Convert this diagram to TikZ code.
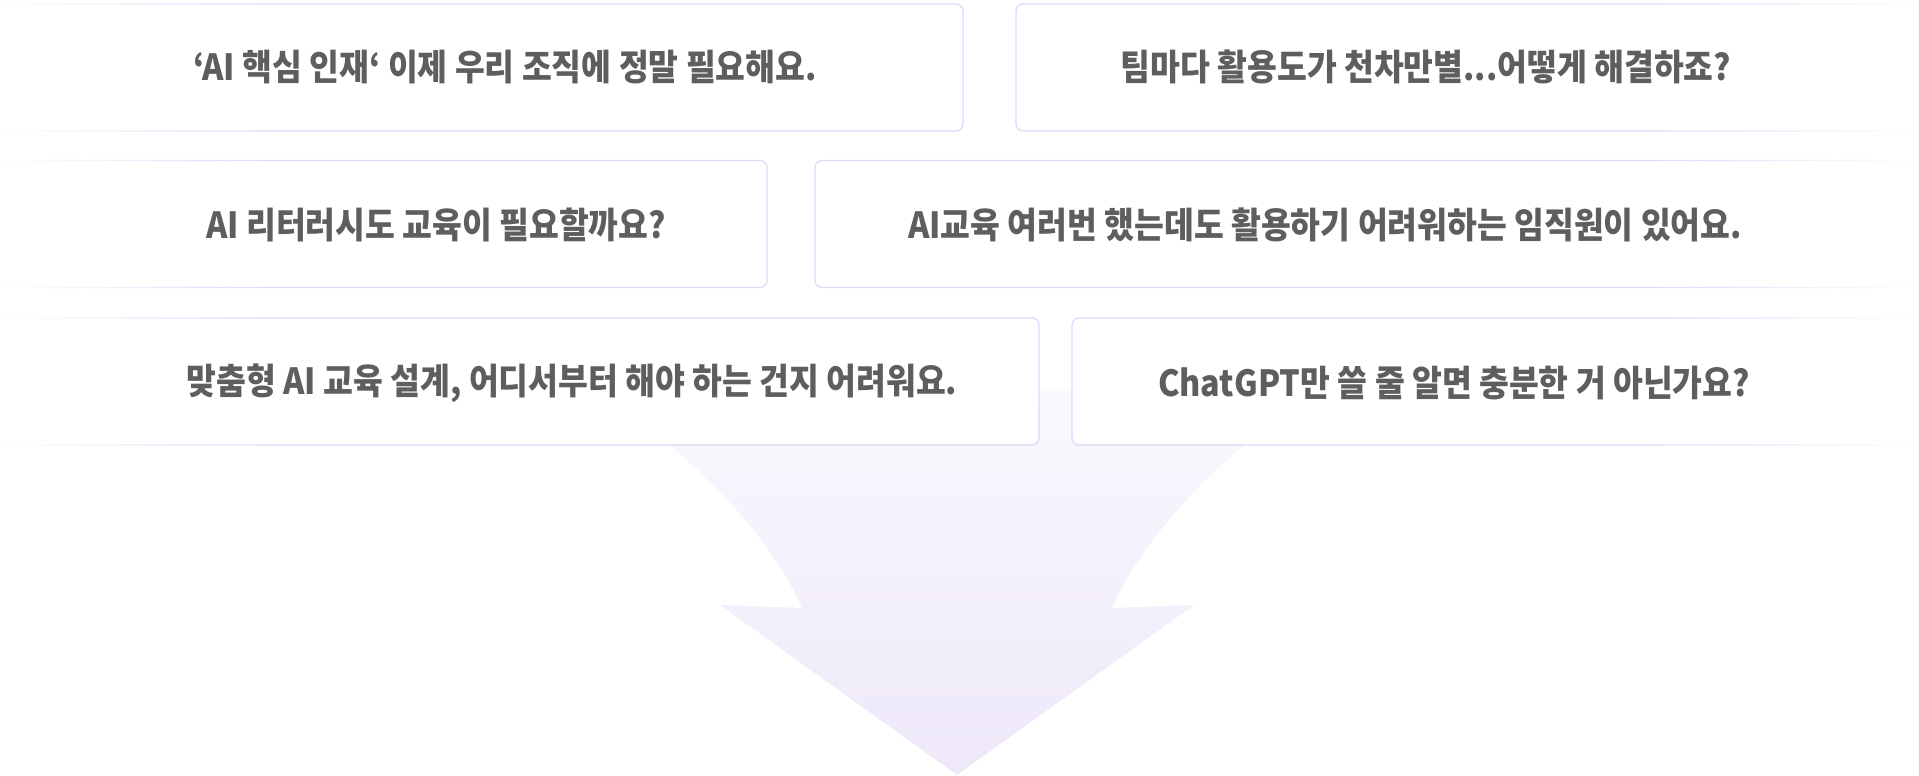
\documentclass[tikz,border=0pt]{standalone}
\usepackage{fontspec}
\setmainfont{Noto Sans CJK KR}[FakeStretch=0.9]
\usetikzlibrary{fadings}
\definecolor{qline}{RGB}{221,218,250}
\definecolor{qgray}{RGB}{94,94,94}
\definecolor{arrtop}{RGB}{250,248,254}
\definecolor{arrbot}{RGB}{238,232,249}
\tikzfading[name=fadeleft, left color=transparent!0, right color=transparent!100]
\tikzfading[name=faderight, left color=transparent!100, right color=transparent!0]
\begin{document}
\begin{tikzpicture}[x=1pt,y=-1pt,
		qbox/.style={draw=qline,line width=1.3pt,fill=white,rounded corners=7pt,inner sep=0pt,minimum height=127pt},
		qtext/.style={text=qgray,font=\fontsize{36}{40}\selectfont\bfseries,inner sep=0pt}]
	\useasboundingbox (0,0) rectangle (1919,776);
	
	\shade[top color=arrtop,bottom color=arrbot] (590,389) .. controls (700,455) and (775,545) .. (802,608) -- (720,605) -- (957,775) -- (1194,605) -- (1112,608) .. controls (1139,545) and (1214,455) .. (1324,389) -- cycle;
	
	\node[qbox,minimum width=1003pt] (b1) at (461.5,67.5) {};
	\node[qbox,minimum width=943pt] (b2) at (1487.5,67.5) {};
	\node[qbox,minimum width=807pt] (b3) at (363.5,224) {};
	\node[qbox,minimum width=1145pt] (b4) at (1387.5,224) {};
	\node[qbox,minimum width=1079pt] (b5) at (499.5,381.5) {};
	\node[qbox,minimum width=887pt] (b6) at (1515.5,381.5) {};
	
	\node[qtext] (t1) at (505,67) {‘AI 핵심 인재‘ 이제 우리 조직에 정말 필요해요.};
	\node[qtext] (t2) at (1426,67) {팀마다 활용도가 천차만별...어떻게 해결하죠?};
	\node[qtext] (t3) at (436,225) {AI 리터러시도 교육이 필요할까요?};
	\node[qtext] (t4) at (1325,225) {AI교육 여러번 했는데도 활용하기 어려워하는 임직원이 있어요.};
	\node[qtext] (t5) at (572,383) {맞춤형 AI 교육 설계, 어디서부터 해야 하는 건지 어려워요.};
	\node[qtext] (t6) at (1454,383) {ChatGPT만 쓸 줄 알면 충분한 거 아닌가요?};
	
	\foreach \y in {4,131,160,288,318,445} {
		\fill[white,path fading=fadeleft] (-1,\y-3) rectangle (280,\y+3);
		\fill[white,path fading=faderight] (1640,\y-3) rectangle (1920,\y+3);
	}
\end{tikzpicture}
\end{document}
